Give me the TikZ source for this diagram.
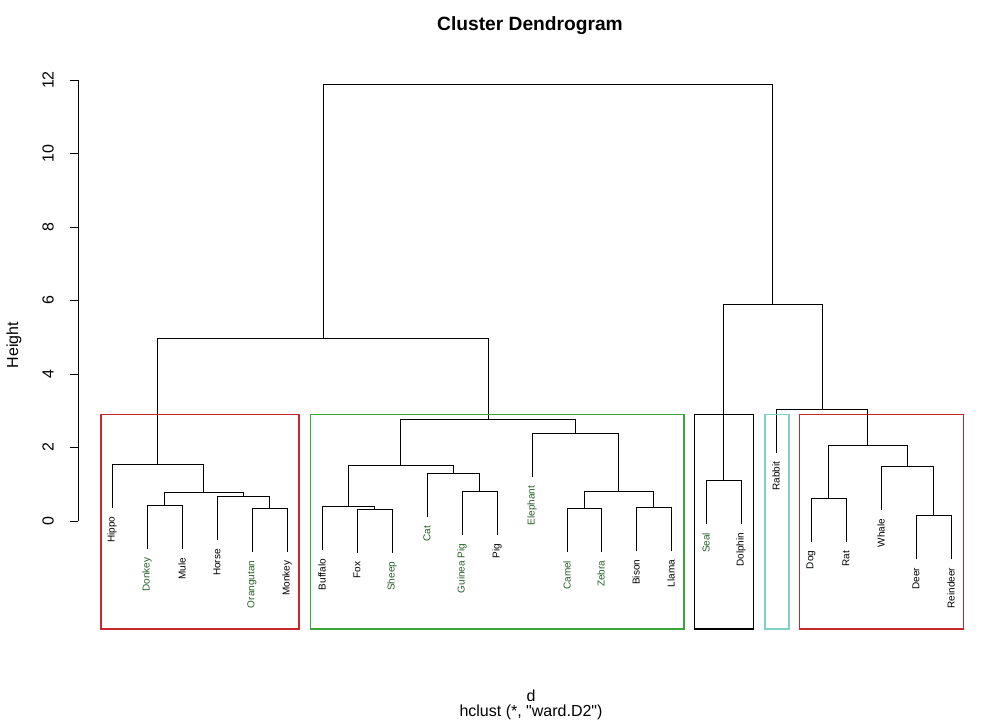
\documentclass[tikz,border=0pt]{standalone}
\usepackage{fontspec}
\setmainfont{Liberation Sans}
\newfontfamily\rawsans{Liberation Sans}[Ligatures=TeXOff]
\definecolor{boxred}{HTML}{C8282D}
\definecolor{boxgreen}{HTML}{3BA53B}
\definecolor{boxcyan}{HTML}{80D0C6}
\definecolor{lblgreen}{HTML}{236123}

\begin{document}
\begin{tikzpicture}[x=0.75pt, y=-0.75pt, line width=0.75pt,
  leaflab/.style={rotate=90, anchor=east, inner sep=0pt, font=\fontsize{7.5}{9}\selectfont},
  axlab/.style={rotate=90, inner sep=0pt, font=\fontsize{12}{14}\selectfont},
  clbox/.style={line width=1.2pt}]

% Canvas
\useasboundingbox (0,0) rectangle (987,726);

% Title
\node[font=\fontsize{14.4}{17}\selectfont\bfseries] (title) at (530,26) {Cluster Dendrogram};

% Height axis
\draw (78,521) -- (78,80);
\foreach \h in {0,2,...,12} {
  \draw (70,{521-36.75*\h}) -- (78,{521-36.75*\h});
  \node[axlab] (tick\h) at (48,{521-36.75*\h}) {\h};
}
\node[axlab] (ylab) at (14,345) {Height};

% Leaves
\foreach \nm/\x/\y/\txt/\col in {
  hippo/112/507.8/Hippo/black, donkey/147/548.8/Donkey/lblgreen,
  mule/182/548.8/Mule/black, horse/217/540.2/Horse/black,
  orangutan/252/551.8/Orangutan/lblgreen, monkey/287/551.8/Monkey/black,
  buffalo/322/550.2/Buffalo/black, fox/357/552.8/Fox/black,
  sheep/392/552.8/Sheep/lblgreen, cat/427/516.8/Cat/lblgreen,
  guineapig/462/534.8/Guinea Pig/lblgreen, pig/497/534.8/Pig/black,
  elephant/532/476.8/Elephant/lblgreen, camel/567/551.8/Camel/lblgreen,
  zebra/601/551.8/Zebra/lblgreen, bison/636/550.8/Bison/black,
  llama/671/550.8/Llama/black, seal/706/523.8/Seal/lblgreen,
  dolphin/741/523.8/Dolphin/black, rabbit/776/452.8/Rabbit/black,
  dog/811/541.8/Dog/black, rat/846/541.8/Rat/black,
  whale/881/509.8/Whale/black, deer/916/558.8/Deer/black,
  reindeer/951/558.8/Reindeer/black} {
  \coordinate (\nm) at (\x,\y);
  \node[leaflab, text=\col] (\nm-lab) at (\x,{\y+8.5}) {\txt};
}

% Left cluster
\coordinate (om) at (269.5,508.3);   \draw (orangutan) |- (om) -| (monkey);
\coordinate (hom) at (243.2,496.7);  \draw (horse) |- (hom) -| (om);
\coordinate (dm) at (164.5,505.3);   \draw (donkey) |- (dm) -| (mule);
\coordinate (dmh) at (203.9,492.3);  \draw (dm) |- (dmh) -| (hom);
\coordinate (lft) at (157.9,464.3);  \draw (hippo) |- (lft) -| (dmh);

% Middle cluster
\coordinate (fs) at (374.5,509.3);   \draw (fox) |- (fs) -| (sheep);
\coordinate (bfs) at (348.2,506.7);  \draw (buffalo) |- (bfs) -| (fs);
\coordinate (gpp) at (479.5,491.3);  \draw (guineapig) |- (gpp) -| (pig);
\coordinate (cg) at (453.2,473.3);   \draw (cat) |- (cg) -| (gpp);
\coordinate (bc) at (400.7,465.3);   \draw (bfs) |- (bc) -| (cg);
\coordinate (cz) at (584,508.3);     \draw (camel) |- (cz) -| (zebra);
\coordinate (bl) at (653.5,507.3);   \draw (bison) |- (bl) -| (llama);
\coordinate (czbl) at (618.7,491.3); \draw (cz) |- (czbl) -| (bl);
\coordinate (ele) at (575.4,433.3);  \draw (elephant) |- (ele) -| (czbl);
\coordinate (mid) at (488.1,419.3);  \draw (bc) |- (mid) -| (ele);
\coordinate (lm) at (323,338);       \draw (lft) |- (lm) -| (mid);

% Right cluster
\coordinate (sd) at (723.5,480.3);   \draw (seal) |- (sd) -| (dolphin);
\coordinate (dr) at (828.5,498.3);   \draw (dog) |- (dr) -| (rat);
\coordinate (drr) at (933.5,515.3);  \draw (deer) |- (drr) -| (reindeer);
\coordinate (wd) at (907.2,466.3);   \draw (whale) |- (wd) -| (drr);
\coordinate (dw) at (867.9,445);     \draw (dr) |- (dw) -| (wd);
\coordinate (rb) at (822,409.3);     \draw (rabbit) |- (rb) -| (dw);
\coordinate (rgt) at (772.7,304);    \draw (sd) |- (rgt) -| (rb);

% Root
\coordinate (root) at (547.9,84.3);  \draw (lm) |- (root) -| (rgt);

% Cluster boxes
\draw[clbox, boxred] (100.7,414.3) rectangle (298.7,628.7);
\draw[clbox, boxgreen] (310.3,414.3) rectangle (683.7,628.7);
\draw[clbox, black] (694.3,414.3) rectangle (753.3,628.7);
\draw[clbox, boxcyan] (764.7,414.3) rectangle (788.7,628.7);
\draw[clbox, boxred] (799.3,414.3) rectangle (963.3,628.7);

% x labels
\node[font=\fontsize{12}{14}\selectfont] (xlab) at (531,696) {d};
\node[font=\rawsans\fontsize{12}{14}\selectfont] (sublab) at (531,712) {hclust (*, "ward.D2")};

\end{tikzpicture}
\end{document}
